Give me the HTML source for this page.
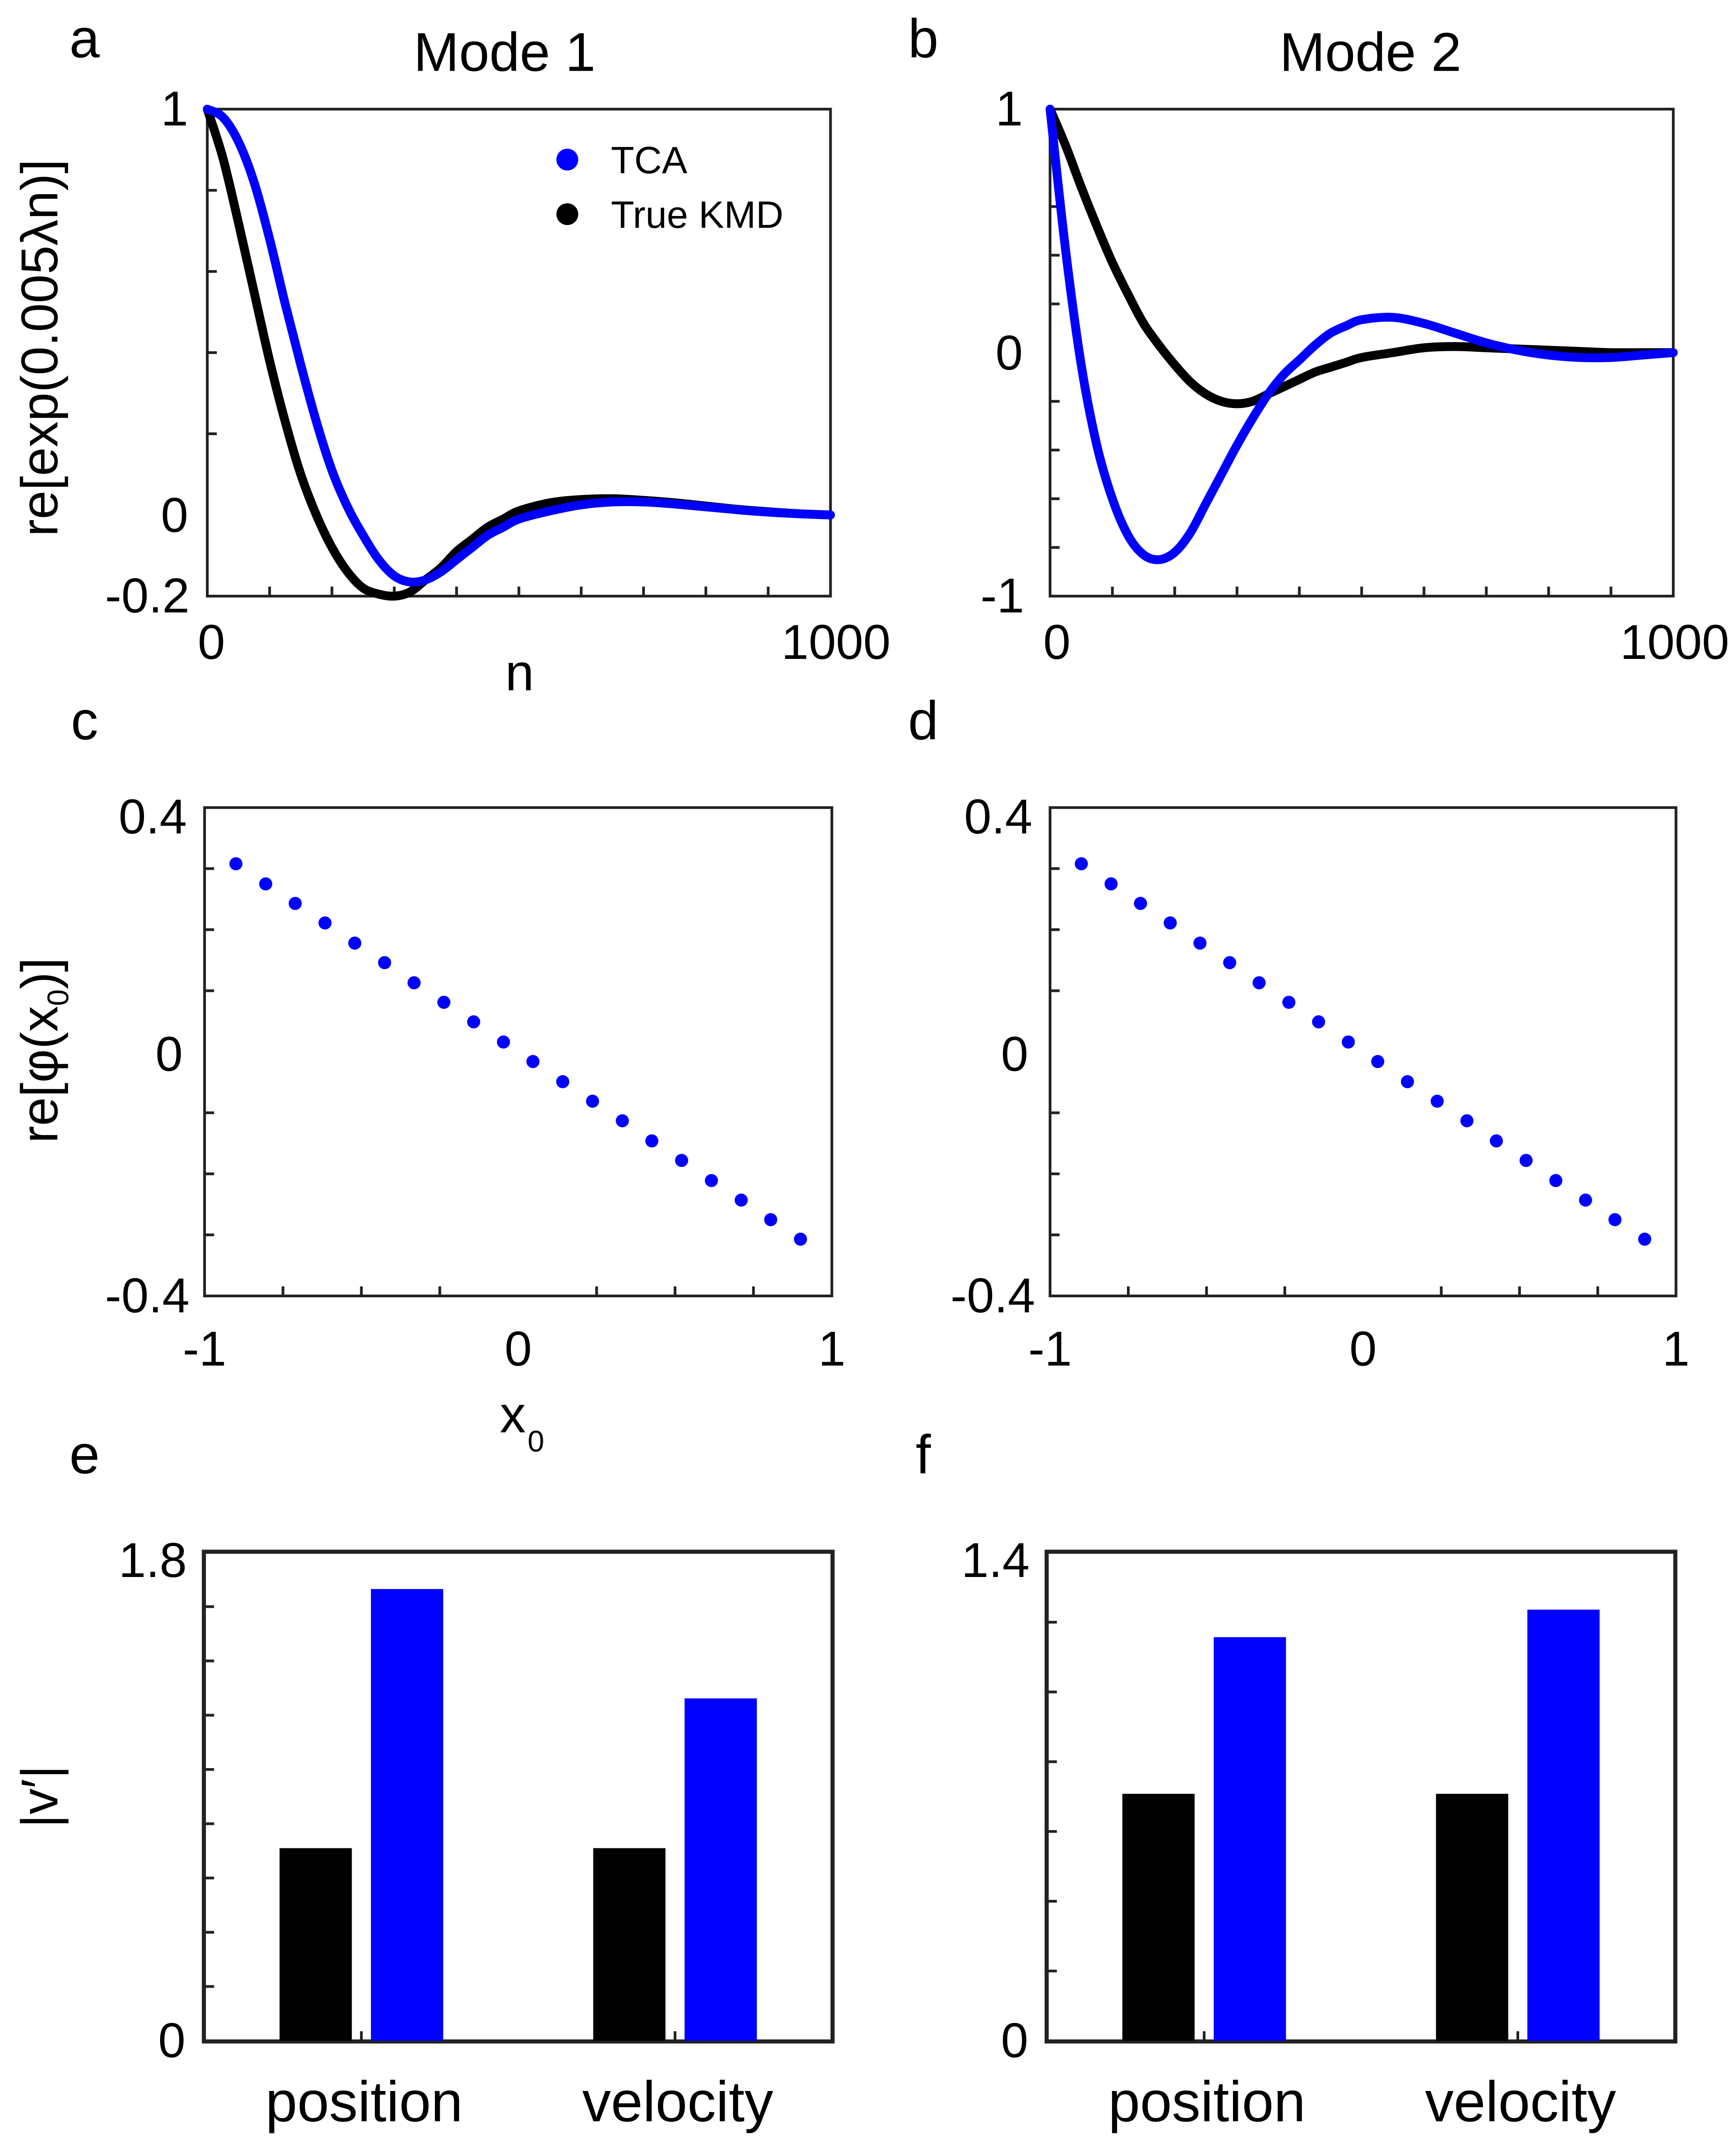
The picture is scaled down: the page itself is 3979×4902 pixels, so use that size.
<!DOCTYPE html>
<html><head><meta charset="utf-8">
<style>
html,body{margin:0;padding:0;background:#fff;}
svg{display:block;font-family:"Liberation Sans",sans-serif;}
</style></head>
<body>
<svg id="fig" width="3979" height="4902" viewBox="0 0 1273 1568" preserveAspectRatio="none" xmlns="http://www.w3.org/2000/svg"></svg>
<script>
// ---- data ----
const nVals = [0,25,50,75,100,125,150,175,200,225,250,275,300,325,350,375,400,425,450,475,500,550,600,650,700,750,800,850,900,950,1000];
const aTCA  = [1,0.98,0.92,0.82,0.68,0.52,0.37,0.23,0.11,0.02,-0.05,-0.11,-0.15,-0.165,-0.16,-0.14,-0.11,-0.08,-0.05,-0.03,-0.01,0.01,0.025,0.032,0.032,0.027,0.02,0.013,0.007,0.003,0];
const aKMD  = [1,0.88,0.72,0.55,0.38,0.23,0.10,0.0,-0.08,-0.14,-0.18,-0.195,-0.2,-0.19,-0.16,-0.13,-0.09,-0.06,-0.03,-0.01,0.01,0.03,0.038,0.04,0.036,0.03,0.022,0.014,0.008,0.003,0];
const bTCA  = [1,0.42,-0.05,-0.38,-0.6,-0.75,-0.83,-0.85,-0.82,-0.74,-0.62,-0.5,-0.38,-0.27,-0.17,-0.09,-0.03,0.03,0.08,0.11,0.135,0.145,0.12,0.08,0.04,0.01,-0.01,-0.02,-0.02,-0.01,0];
const bKMD  = [1,0.85,0.68,0.52,0.37,0.24,0.12,0.03,-0.05,-0.12,-0.17,-0.2,-0.21,-0.2,-0.17,-0.14,-0.11,-0.08,-0.06,-0.04,-0.02,0.0,0.02,0.025,0.02,0.015,0.01,0.005,0,0,0];
const x0Vals = [-0.9,-0.805,-0.711,-0.616,-0.521,-0.426,-0.332,-0.237,-0.142,-0.047,0.047,0.142,0.237,0.332,0.426,0.521,0.616,0.711,0.805,0.9];
const cPhi = [0.308,0.275,0.243,0.211,0.178,0.146,0.113,0.081,0.049,0.016,-0.016,-0.049,-0.081,-0.113,-0.146,-0.178,-0.211,-0.243,-0.275,-0.307];
const dPhi = [0.308,0.275,0.243,0.211,0.178,0.146,0.113,0.081,0.049,0.016,-0.016,-0.049,-0.081,-0.113,-0.146,-0.178,-0.211,-0.243,-0.275,-0.307];
const barCats = ["position","velocity"];
const eKMD = [0.71,0.71];
const eTCA = [1.665,1.262];
const fKMD = [0.708,0.708];
const fTCA = [1.157,1.236];

const NS="http://www.w3.org/2000/svg";
const svg=document.getElementById('fig');
function mk(tag,attrs,parent){const e=document.createElementNS(NS,tag);for(const k in attrs)e.setAttribute(k,attrs[k]);(parent||svg).appendChild(e);return e;}
function txt(s,x,y,size,anchor,parent){const t=mk('text',{x:x,y:y,'font-size':size,'text-anchor':anchor||'middle',fill:'#000'},parent);t.textContent=s;return t;}
function lin(d0,d1,r0,r1){return v=>r0+(v-d0)/(d1-d0)*(r1-r0);}

function axesBox(name,x0,x1,y0,y1,yTicks,xTicks){
  const g=mk('g',{});
  
  
  const r=mk('rect',{x:x0,y:y0,width:x1-x0,height:y1-y0,fill:'none',stroke:'#222','stroke-width':2},g);
  
  yTicks.forEach(y=>{mk('line',{x1:x0,x2:x0+7,y1:y,y2:y,stroke:'#222','stroke-width':2},g);});
  xTicks.forEach(x=>{mk('line',{x1:x,x2:x,y1:y1,y2:y1-7,stroke:'#222','stroke-width':2},g);});
  return g;
}
function curve(g,xs,ys,sx,sy,color,name){
  const P=xs.map((v,i)=>[sx(v),sy(ys[i])]);
  let d='M'+P[0][0].toFixed(2)+','+P[0][1].toFixed(2);
  for(let i=0;i<P.length-1;i++){
    const p0=P[Math.max(0,i-1)],p1=P[i],p2=P[i+1],p3=P[Math.min(P.length-1,i+2)];
    const c1=[p1[0]+(p2[0]-p0[0])/6,p1[1]+(p2[1]-p0[1])/6];
    const c2=[p2[0]-(p3[0]-p1[0])/6,p2[1]-(p3[1]-p1[1])/6];
    d+=' C'+c1[0].toFixed(2)+','+c1[1].toFixed(2)+' '+c2[0].toFixed(2)+','+c2[1].toFixed(2)+' '+p2[0].toFixed(2)+','+p2[1].toFixed(2);
  }
  const l=mk('path',{d:d,fill:'none',stroke:color,'stroke-width':6.5,'stroke-linejoin':'round','stroke-linecap':'round'},g);
  
  
}

// Panel a
{
 const sx=lin(0,1000,152,609), sy=lin(-0.2,1,437,80);
 const yt=[0.2,0.4,0.6,0.8].map(sy), xt=[100,200,300,400,500,600,700,800,900].map(sx);
 const g=axesBox('panel-a',152,609,80,437,yt,xt);
 curve(g,nVals,aKMD,sx,sy,'#000','series-true-kmd-a');
 curve(g,nVals,aTCA,sx,sy,'#0000ff','series-tca-a');
 txt('1',128,92,36,'middle',g);txt('0',128,390,36,'middle',g);txt('-0.2',108,449,36,'middle',g);
 txt('0',155,483,36,'middle',g);txt('1000',613,483,36,'middle',g);
 txt('n',381,506,38,'middle',g);
 const lg=mk('g',{},g);
 mk('circle',{cx:416,cy:117,r:8,fill:'#0000ff'},lg);txt('TCA',448,127,28,'start',lg);
 mk('circle',{cx:416,cy:157,r:8,fill:'#000'},lg);txt('True KMD',448,167,28,'start',lg);
}
// Panel b
{
 const sx=lin(0,1000,770,1227), sy=lin(-1,1,437,80);
 const yt=[-0.8,-0.6,-0.4,-0.2,0.2,0.4,0.6,0.8].map(sy), xt=[100,200,300,400,500,600,700,800,900].map(sx);
 const g=axesBox('panel-b',770,1227,80,437,yt,xt);
 curve(g,nVals,bKMD,sx,sy,'#000','series-true-kmd-b');
 curve(g,nVals,bTCA,sx,sy,'#0000ff','series-tca-b');
 txt('1',740,92,36,'middle',g);txt('0',740,271,36,'middle',g);txt('-1',735,449,36,'middle',g);
 txt('0',775,483,36,'middle',g);txt('1000',1228,483,36,'middle',g);
}
// Panels c,d
function scatter(name,x0,x1,vals){
 const sx=lin(-1,1,x0,x1), sy=lin(-0.4,0.4,950,592);
 const yt=[-0.3,-0.2,-0.1,0.1,0.2,0.3].map(sy), xt=[-0.75,-0.5,-0.25,0.25,0.5,0.75].map(sx);
 const g=axesBox(name,x0,x1,592,950,yt,xt);
 x0Vals.forEach((v,i)=>{const c=mk('circle',{cx:sx(v),cy:sy(vals[i]),r:4.8,fill:'#0000ff'},g);
   });
 txt('0.4',x0-38,611,36,'middle',g);txt('0',x0-26,785,36,'middle',g);txt('-0.4',x0-42,962,36,'middle',g);
 txt('-1',x0,1001,36,'middle',g);txt('0',(x0+x1)/2,1001,36,'middle',g);txt('1',x1,1001,36,'middle',g);
 return g;
}
scatter('panel-c',150,610,cPhi);
scatter('panel-d',770,1229,dPhi);
{const t=txt('x',376,1050,38,'middle');const s=txt('0',393,1064,22,'middle');}
// Panels e,f
function bars(name,x0,x1,ymax,step,kmd,tca,topLabel){
 const sx=lin(0.5,2.5,x0,x1), sy=lin(0,ymax,1496,1138);
 const yt=[];for(let v=step;v<ymax-1e-6;v+=step)yt.push(sy(v));
 const g=axesBox(name,x0,x1,1138,1496,yt,[sx(1),sx(2)]);
 barCats.forEach((c,i)=>{
   const cx=sx(i+1);
   const b1=mk('rect',{x:cx-60,y:sy(kmd[i]),width:53,height:sy(0)-sy(kmd[i]),fill:'#000'},g);
   
   const b2=mk('rect',{x:cx+7,y:sy(tca[i]),width:53,height:sy(0)-sy(tca[i]),fill:'#0000ff'},g);
   
   txt(c,cx+2,1555,42,'middle',g);
 });
 mk('rect',{x:x0-1,y:1137,width:x1-x0+2,height:360,fill:'none',stroke:'#222','stroke-width':2},g);
 txt(topLabel,x0-38,1156,36,'middle',g);txt('0',x0-24,1508,36,'middle',g);
}
bars('panel-e',150,610,1.8,0.2,eKMD,eTCA,'1.8');
bars('panel-f',768,1228,1.4,0.2,fKMD,fTCA,'1.4');

// titles and panel letters
txt('Mode 1',370,52,40);txt('Mode 2',1005,52,40);
[['a',62,42],['b',677,42],['c',62,542],['d',677,542],['e',62,1080],['f',677,1080]].forEach(a=>{
 const t=txt(a[0],a[1],a[2],40);});
// y labels
function ylab(s,x,y,name){const t=txt(s,x,y,38);t.setAttribute('transform','rotate(-90 '+x+' '+y+')');
 return t;}
ylab('re[exp(0.005λn)]',42,255,'y-axis-title-a');
{const t=ylab('',42,770,'y-axis-title-c');
 const a=document.createElementNS(NS,'tspan');a.textContent='re[φ(x';t.appendChild(a);
 const b=document.createElementNS(NS,'tspan');b.setAttribute('font-size','22');b.setAttribute('dy','8');b.textContent='0';t.appendChild(b);
 const c=document.createElementNS(NS,'tspan');c.setAttribute('dy','-8');c.textContent=')]';t.appendChild(c);}
ylab('|v′|',42,1317,'y-axis-title-e');
</script>
</body></html>
